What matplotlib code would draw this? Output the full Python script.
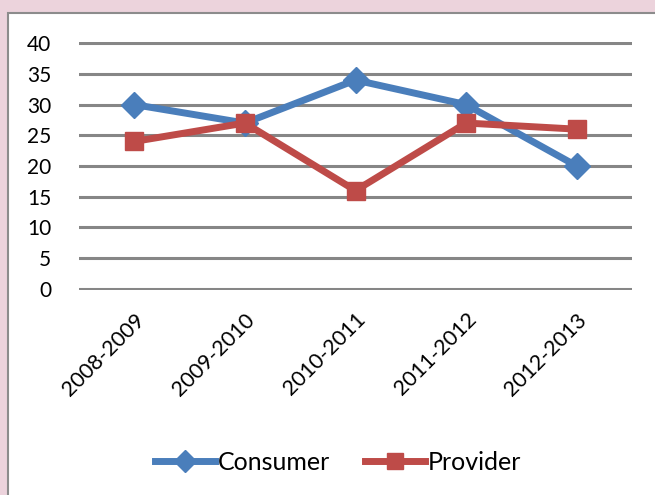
import matplotlib.pyplot as plt
from matplotlib.patches import Rectangle

# data
years = ["2008-2009", "2009-2010", "2010-2011", "2011-2012", "2012-2013"]
consumer = [30, 27, 34, 30, 20]
provider = [24, 27, 16, 27, 26]

plt.rcParams['font.family'] = ['Lato', 'DejaVu Sans']

fig = plt.figure(figsize=(6.55, 4.95), dpi=100, facecolor="#ecd3dc")
# white chart area with grey border
fig.patches.append(Rectangle((8 / 655, -0.01), 1.0, 1 - 13 / 495 + 0.01,
                             transform=fig.transFigure, facecolor="white",
                             edgecolor="#8c8c8c", linewidth=1.5, zorder=-10))

ax = fig.add_axes([79 / 655, 1 - 290 / 495, (632 - 79) / 655, (290 - 42) / 495])
ax.set_facecolor("none")
ax.set_zorder(2)

x = range(len(years))
ax.plot(x, consumer, color="#4a7ebb", linewidth=5, marker="D", markersize=13,
        label="Consumer", clip_on=False, zorder=3)
ax.plot(x, provider, color="#be4b48", linewidth=5, marker="s", markersize=13,
        label="Provider", clip_on=False, zorder=4)

ax.set_xlim(-0.5, 4.5)
ax.set_ylim(-0.2, 40.2)
ax.set_yticks(range(0, 41, 5))
ax.set_xticks(list(x))
ax.set_xticklabels(years, rotation=45, ha="right", va="top", rotation_mode="anchor")
ax.yaxis.grid(True, color="#868686", linewidth=2.2)
ax.set_axisbelow(True)
for s in ax.spines.values():
    s.set_visible(False)
ax.tick_params(axis="both", length=0, labelsize=15)
ax.tick_params(axis="x", pad=14, labelsize=15.5)
ax.tick_params(axis="y", pad=20)

fig.legend(loc="center", bbox_to_anchor=(338 / 655, 1 - 462 / 495), ncol=2,
           frameon=False, fontsize=18, handlelength=2.4, columnspacing=1.4,
           handletextpad=0.1, markerscale=0.9)

fig.savefig("out.png", dpi=100, facecolor=fig.get_facecolor())
